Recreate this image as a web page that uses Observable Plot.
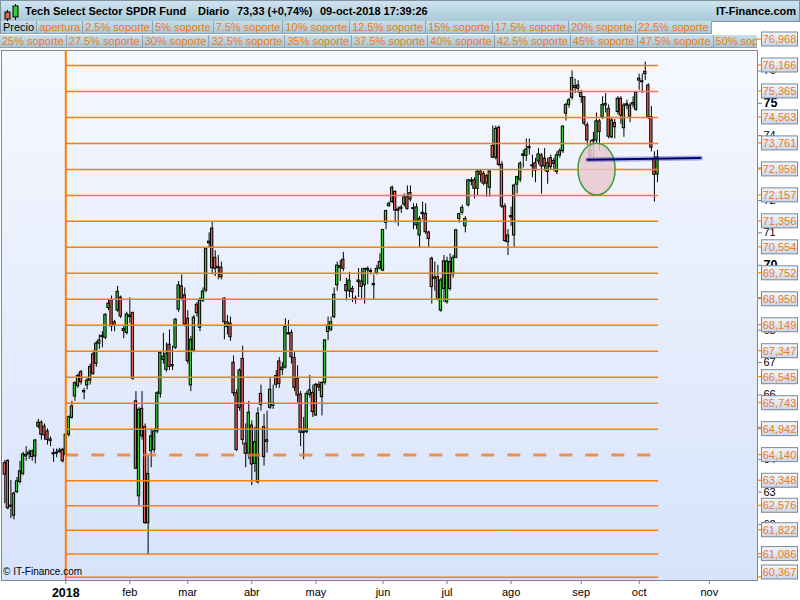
<!DOCTYPE html>
<html><head><meta charset="utf-8">
<script src="https://cdn.jsdelivr.net/npm/d3@7"></script>
<script src="https://cdn.jsdelivr.net/npm/@observablehq/plot@0.6"></script>
<style>
html,body{margin:0;padding:0;background:#fff;}
body{font-family:"Liberation Sans",Arial,sans-serif;}
#wrap{position:relative;width:800px;height:600px;overflow:hidden;background:#fff;}
#chart{position:absolute;left:0;top:0;}
#hdr{position:absolute;left:0;top:0;width:798px;height:20px;border:1px solid #7f93a0;
  background:linear-gradient(#cfe3ee,#a9c9d9);font-weight:bold;font-size:11px;color:#000;}
#hdr span{position:absolute;top:4px;white-space:nowrap;}
#hdr svg{position:absolute;left:1px;top:1px;}
.lrow{position:absolute;left:0;height:13px;white-space:nowrap;overflow:hidden;font-size:11px;}
.lrow div{display:inline-block;height:12px;line-height:12px;padding:0 2px;border-right:1px solid #8da3b1;border-bottom:1px solid #8da3b1;
  background:linear-gradient(#c9dfea,#a7c6d6);color:#f07a14;vertical-align:top;}
.lrow div.first{color:#000;border-left:1px solid #7f93a0;}
#copy{position:absolute;left:3px;top:566px;font-size:10px;color:#000;}
</style></head><body>
<svg width="0" height="0" style="position:absolute">
 <defs>
  <linearGradient id="bg" x1="0" y1="0" x2="0" y2="1">
   <stop offset="0" stop-color="#f5f8fe"/><stop offset="1" stop-color="#d7e3fb"/>
  </linearGradient>
  <linearGradient id="box" x1="0" y1="0" x2="0" y2="1">
   <stop offset="0" stop-color="#f4f7fd"/><stop offset="1" stop-color="#c9d6ec"/>
  </linearGradient>
 </defs>
</svg>
<div id="wrap">
 <div id="chart"></div>
 <div id="hdr">
  <svg width="20" height="19"><line x1="5.5" y1="8" x2="5.5" y2="19" stroke="#000"/><rect x="3" y="10" width="5" height="7" fill="#e0605a" stroke="#000"/>
   <line x1="13.5" y1="2" x2="13.5" y2="18" stroke="#000"/><rect x="11" y="4" width="5" height="11" fill="#33cc33" stroke="#000"/></svg>
  <span style="left:24px">Tech Select Sector SPDR Fund</span>
  <span style="left:197px">Diario</span>
  <span style="left:236px">73,33 (+0,74%)</span>
  <span style="left:319px">09-oct-2018 17:39:26</span>
  <span style="right:3px">IT-Finance.com</span>
 </div>
 <div class="lrow" id="row1" style="top:21px;width:757px;"></div>
 <div class="lrow" id="row2" style="top:35px;width:757px;"></div>
 <div id="copy">© IT-Finance.com</div>
</div>
<script>
// ---- data: daily OHLC, one entry per trading day (Dec 1 2017 .. Oct 9 2018) ----
const open = [
 63.89,63.96,62.55,62.27,63.00,63.31,63.56,64.10,64.16,64.26,64.10,65.02,65.14,65.02,64.87,64.62,64.17,64.19,64.23,64.30,
 64.14,64.77,65.29,65.95,66.27,66.70,66.12,66.29,66.44,67.25,66.96,67.58,67.78,67.76,68.68,68.93,68.24,68.60,69.00,68.03,67.91,
 68.40,68.53,65.80,62.87,65.57,65.00,62.04,64.26,64.30,64.87,66.03,67.08,66.77,67.55,66.92,67.45,68.63,69.35,69.07,
 68.35,66.29,67.37,68.78,68.07,68.91,69.22,70.68,71.13,70.23,69.95,69.92,68.97,68.09,68.20,66.99,66.05,65.60,67.11,64.49,64.18,
 65.05,63.87,63.30,66.03,65.00,64.60,65.60,65.66,66.58,67.03,66.77,66.84,67.87,67.91,67.14,66.50,66.01,64.83,64.85,66.00,66.06,
 65.36,66.31,65.93,66.37,67.94,68.01,68.40,69.38,69.92,70.17,69.39,69.20,69.27,68.97,69.48,69.50,69.38,69.85,69.80,69.42,69.76,69.90,
 69.84,71.31,71.82,71.95,72.26,71.72,71.74,71.87,72.10,72.03,71.76,71.23,70.92,71.58,71.59,71.01,70.20,69.58,69.63,68.60,70.12,
 68.86,70.10,69.72,70.23,71.43,71.62,71.20,71.85,72.58,72.62,72.36,72.89,72.82,72.75,72.39,73.68,73.32,74.24,73.10,71.81,70.71,
 71.48,70.92,72.49,72.64,73.38,73.37,73.61,73.08,73.15,73.20,73.39,73.29,72.88,73.31,73.22,72.88,73.39,73.52,74.68,74.95,75.17,75.53,75.45,
 75.19,75.19,74.32,73.37,73.82,73.85,74.44,74.57,74.98,74.83,73.95,74.39,74.73,75.14,74.23,74.93,74.93,74.96,74.80,
 75.70,75.68,75.90,75.55,74.57,73.29,72.80];
const high = [
 63.97,64.00,63.36,63.00,63.45,63.95,64.23,64.40,64.30,64.30,64.62,65.24,65.20,65.10,64.95,64.70,64.33,64.33,64.35,64.35,
 64.80,65.35,65.80,66.40,66.65,66.75,66.20,66.50,66.95,67.35,67.65,67.85,67.95,68.50,68.95,69.05,68.30,69.35,69.05,68.10,68.55,
 69.00,68.55,66.10,65.60,66.10,65.10,64.10,64.95,64.95,66.10,67.35,67.90,67.60,68.00,67.50,68.35,69.50,69.70,69.30,
 68.60,67.80,68.45,68.85,69.00,69.30,70.55,71.00,71.35,70.45,70.30,70.10,69.00,68.45,68.40,67.20,66.15,66.80,67.50,65.10,65.80,
 65.20,65.00,65.60,66.30,65.40,65.50,66.50,66.30,66.75,67.15,67.00,68.35,68.30,68.00,67.30,66.90,66.10,65.30,66.10,66.60,66.30,
 66.35,66.40,66.40,67.70,68.40,68.40,69.30,70.10,70.15,70.40,69.60,69.78,69.35,69.05,69.90,69.90,69.90,69.95,69.90,69.70,70.00,70.35,
 71.10,71.70,71.95,72.45,72.30,71.80,71.85,72.20,72.45,72.45,71.90,71.90,71.50,71.95,71.90,71.05,70.25,70.10,70.00,69.60,70.30,
 70.25,70.35,70.30,71.10,71.60,71.85,71.50,72.65,72.70,72.70,72.95,72.95,72.90,72.80,72.95,74.30,74.30,74.30,73.20,71.90,71.10,
 71.80,72.50,72.75,73.20,73.55,73.90,73.90,73.40,73.30,73.60,73.45,73.60,73.30,73.40,73.30,73.50,73.60,74.30,75.00,75.15,76.00,75.75,75.70,
 75.40,75.20,74.40,73.85,74.10,74.70,74.50,75.20,75.30,74.95,74.55,74.50,75.20,75.20,75.00,75.10,75.00,75.20,75.35,
 75.90,75.90,76.27,75.60,74.90,73.50,73.55];
const low = [
 62.64,62.45,62.18,62.14,62.95,63.25,63.50,63.95,64.00,63.95,63.87,64.95,64.60,64.60,64.45,64.40,63.92,64.06,64.20,63.90,
 64.10,64.70,65.25,65.80,66.20,66.30,65.85,66.15,66.30,66.60,66.85,67.40,67.45,67.70,68.60,67.95,67.95,68.55,68.35,67.73,67.85,
 68.20,66.45,63.70,62.55,64.60,62.00,61.05,63.75,64.20,64.80,65.90,66.95,66.70,66.75,66.75,67.40,68.55,68.90,68.10,
 66.95,66.10,67.30,68.40,67.95,68.85,69.15,70.55,69.70,69.65,69.55,69.55,67.70,67.85,67.65,65.95,64.25,65.50,64.45,63.75,64.00,
 63.20,63.60,63.25,65.50,63.80,64.20,65.55,65.55,66.20,66.20,66.60,66.80,67.85,66.95,66.10,65.75,64.40,64.00,64.80,65.90,65.30,
 65.35,66.10,65.35,66.30,67.67,67.95,68.35,69.20,69.50,69.80,68.90,69.00,68.85,68.80,69.00,68.95,68.80,69.40,69.70,68.95,69.70,69.85,
 69.80,71.10,71.80,71.90,71.30,71.20,71.60,71.80,71.70,71.95,71.10,71.10,70.55,71.40,70.95,70.55,68.80,69.20,68.90,68.55,68.85,
 68.80,69.20,69.60,70.20,71.30,71.55,71.00,71.80,72.45,72.05,72.15,72.55,72.45,72.10,72.10,73.30,73.25,73.05,71.75,70.70,70.30,
 71.20,70.55,72.20,72.55,73.00,73.20,73.40,72.70,72.55,73.10,72.20,72.90,72.50,72.95,72.90,72.80,73.30,73.45,74.45,74.85,75.10,75.30,75.30,
 75.00,74.30,73.70,73.26,73.30,73.75,73.55,74.50,74.70,73.90,73.90,73.90,74.65,74.35,73.95,74.80,74.40,74.85,74.75,
 75.40,75.30,75.70,74.50,73.50,71.95,72.55];
const close = [
 63.54,62.50,62.58,62.95,63.33,63.64,64.16,64.15,64.22,64.08,64.59,65.14,64.77,64.75,64.61,64.57,64.19,64.21,64.28,63.95,
 64.77,65.31,65.64,66.36,66.58,66.39,66.08,66.44,66.86,66.65,67.58,67.68,67.82,68.47,68.81,68.11,68.13,69.18,68.42,67.97,68.48,
 68.45,66.50,63.72,65.54,64.72,62.04,63.56,64.72,64.87,66.05,67.30,67.18,67.27,66.86,66.88,68.32,69.38,68.97,68.17,
 67.04,67.70,68.38,68.52,68.91,69.19,70.51,70.73,69.91,69.89,69.91,69.63,68.24,68.24,67.78,66.05,64.30,66.75,64.61,64.18,65.45,
 63.85,64.54,65.42,65.69,64.08,64.55,66.16,65.73,66.31,66.34,66.84,68.09,67.90,67.16,66.22,65.98,64.83,64.85,66.03,66.14,65.47,
 66.31,66.23,66.37,67.68,68.14,68.24,69.09,69.99,69.97,69.89,69.20,69.53,69.17,68.93,69.53,69.33,69.89,69.89,69.82,69.38,69.89,70.10,
 71.09,71.67,71.90,72.39,71.69,71.68,71.78,72.10,71.74,72.23,71.74,71.79,71.43,71.62,71.02,70.81,69.33,69.63,68.93,69.53,69.27,
 70.12,69.27,70.23,71.08,71.58,71.77,71.43,72.62,72.62,72.36,72.89,72.79,72.52,72.52,72.89,73.32,74.21,73.10,71.81,70.75,70.92,
 71.52,72.46,72.72,73.13,73.42,73.57,73.65,73.06,72.92,73.42,73.05,73.05,73.15,73.03,73.13,73.39,73.52,74.28,74.95,75.09,75.78,75.47,75.55,
 75.32,74.37,73.85,73.57,73.86,74.44,74.11,74.95,74.93,73.97,74.47,74.26,75.14,74.62,74.93,74.97,74.59,75.01,75.32,
 75.76,75.65,75.97,74.57,73.63,72.79,73.33];

// x axis: trading-day slot of each month start, and its label
const monthSlots  = [20, 41, 60, 81, 102, 124, 145, 166, 189, 208, 231];
const monthLabels = ["2018","feb","mar","abr","may","jun","jul","ago","sep","oct","nov"];

// support levels (apertura = 64,140)
const apertura = 64.140;
const levels = [76.968,76.166,75.365,74.563,73.761,72.959,72.157,71.356,70.554,69.752,68.950,68.149,
                67.347,66.545,65.743,64.942,64.140,63.348,62.576,61.822,61.086,60.367];
const priceTicks = [61,62,63,64,66,67,68,69,71,72,73,74,76];
const priceTicksBold = [65,70,75];

const legendRow1 = ["Precio","apertura","2.5% soporte","5% soporte","7.5% soporte","10% soporte","12.5% soporte",
                    "15% soporte","17.5% soporte","20% soporte","22.5% soporte"];
const legendRow2 = ["25% soporte","27.5% soporte","30% soporte","32.5% soporte","35% soporte","37.5% soporte",
                    "40% soporte","42.5% soporte","45% soporte","47.5% soporte","50% soporte"];

// annotations (slot, price)
const trendX = [191.1, 228.1];
const trendY = [73.26, 73.31];
const ellipseC = {x: 194.2, y: 72.95, rx: 6.1, ry: 0.80};

// ---- build ----
const GREEN = "#33cc33", RED = "#e0605a", ORANGE = "#ff8000";
const candles = open.map((o, i) => ({s: i, o, h: Math.max(high[i], o, close[i]), l: Math.min(low[i], o, close[i]), c: close[i]}));
const firstSlot = monthSlots[0], lastSlot = open.length - 1;
const lineLevels = levels.filter(v => v !== apertura && v < 76.6);
const trend = trendX.map((x, i) => ({x, y: trendY[i]}));

function bodyLo(d){ const a = Math.min(d.o, d.c), b = Math.max(d.o, d.c); return b - a < 0.03 ? (a + b) / 2 - 0.015 : a; }
function bodyHi(d){ const a = Math.min(d.o, d.c), b = Math.max(d.o, d.c); return b - a < 0.03 ? (a + b) / 2 + 0.015 : b; }

const plot = Plot.plot({
  width: 800, height: 600,
  marginTop: 50, marginBottom: 20, marginLeft: 1, marginRight: 43,
  x: {domain: [-1.08, 246.8], axis: null},
  y: {domain: [60.27, 76.629], axis: null},
  color: {type: "identity"},
  style: {background: "transparent", fontFamily: "Liberation Sans, Arial, sans-serif", color: "#000", overflow: "visible"},
  marks: [
    Plot.frame({fill: "url(#bg)", stroke: "#7a8a98"}),
    Plot.ruleX(candles, {x: "s", y1: "l", y2: "h", stroke: "#000", strokeWidth: 1}),
    Plot.rect(candles, {x1: d => d.s - 0.38, x2: d => d.s + 0.38, y1: bodyLo, y2: bodyHi,
      fill: d => d.c >= d.o ? GREEN : RED, stroke: "#000", strokeWidth: 1}),
    Plot.ruleY(lineLevels, {y: d => d, x1: firstSlot, x2: lastSlot + 0.4, stroke: ORANGE, strokeWidth: 1.5}),
    Plot.ruleY([apertura], {y: d => d, x1: firstSlot, x2: lastSlot - 2, stroke: "#f07a20", strokeOpacity: 0.8,
      strokeWidth: 3, strokeDasharray: "13,13"}),
    Plot.ruleX([firstSlot], {x: d => d, stroke: ORANGE, strokeWidth: 2}),
    Plot.line(trend, {x: "x", y: "y", stroke: "#3030a0", strokeOpacity: 0.35, strokeWidth: 5}),
    Plot.line(trend, {x: "x", y: "y", stroke: "#00007a", strokeWidth: 2}),
    Plot.axisX(monthSlots.slice(1), {anchor: "bottom", tickSize: 4, tickPadding: 4, fontSize: 11,
      stroke: "#6f8090", tickFormat: d => monthLabels[monthSlots.indexOf(d)]}),
    Plot.axisX([monthSlots[0]], {anchor: "bottom", tickSize: 4, tickPadding: 4, fontSize: 12.5, fontWeight: "bold",
      stroke: "#6f8090", tickFormat: () => monthLabels[0]}),
    Plot.axisY(priceTicks, {anchor: "right", tickSize: 4, tickPadding: 2, fontSize: 11, stroke: "#6f8090", tickFormat: d => String(d)}),
    Plot.axisY(priceTicksBold, {anchor: "right", tickSize: 4, tickPadding: 2, fontSize: 12.5, fontWeight: "bold", stroke: "#6f8090", tickFormat: d => String(d)})
  ]
});
document.getElementById("chart").appendChild(plot);

// overlays drawn with the plot's own scales
const xs = plot.scale("x"), ys = plot.scale("y");
const svg = d3.select(plot);
// ellipse annotation
const cx = xs.apply(ellipseC.x), cy = ys.apply(ellipseC.y);
const rx = xs.apply(ellipseC.x + ellipseC.rx) - cx, ry = cy - ys.apply(ellipseC.y + ellipseC.ry);
svg.insert("ellipse", "g[aria-label='line']").attr("cx", cx).attr("cy", cy).attr("rx", rx).attr("ry", ry)
  .attr("fill", "#e8c8cf").attr("fill-opacity", 0.85).attr("stroke", "#3f9a3a").attr("stroke-width", 1.5);

// price label boxes at the right
const gb = svg.append("g");
const right = 757;
for (const v of levels) {
  const yv = ys.apply(v);
  const yc = Math.min(yv, 572);
  gb.append("line").attr("x1", right).attr("x2", right + 5).attr("y1", yv).attr("y2", yv).attr("stroke", ORANGE).attr("stroke-width", 1.2);
  gb.append("rect").attr("x", right + 4.5).attr("y", yc - 7).attr("width", 36).attr("height", 14)
    .attr("fill", "url(#box)").attr("stroke", "#7a8a98");
  gb.append("text").attr("x", right + 22.5).attr("y", yc + 4).attr("text-anchor", "middle")
    .attr("font-size", 11).attr("fill", "#f07a14").text(v.toFixed(3).replace(".", ","));
}

// legend rows
function fillRow(id, items) {
  const row = document.getElementById(id);
  items.forEach((t, i) => { const d = document.createElement("div"); d.textContent = t; if (i === 0 && t === "Precio") d.className = "first"; row.appendChild(d); });
}
fillRow("row1", legendRow1);
fillRow("row2", legendRow2);
</script>
</body></html>
